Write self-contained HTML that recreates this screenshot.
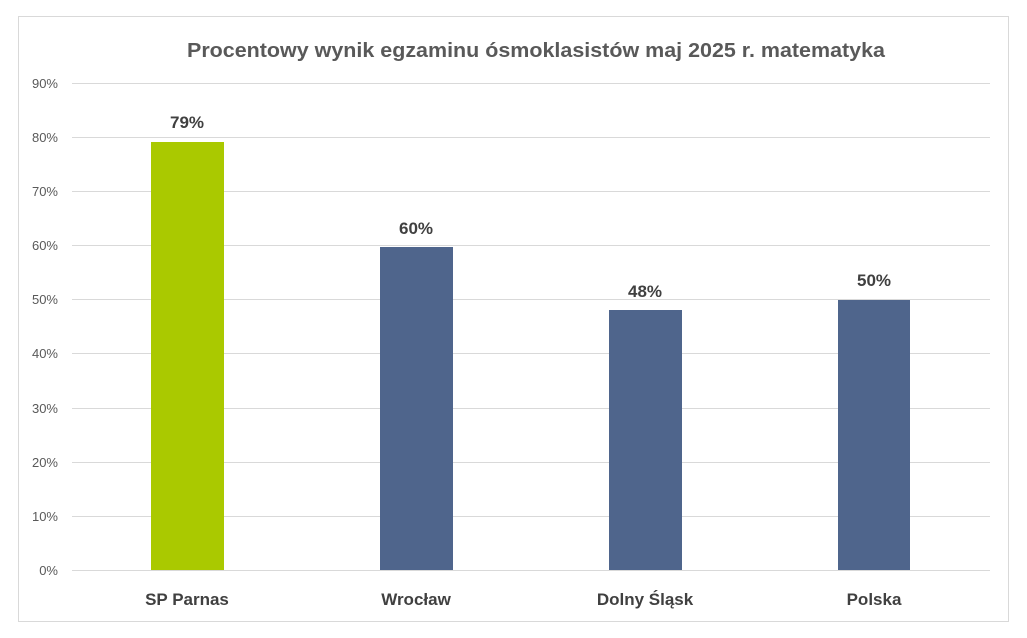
<!DOCTYPE html>
<html><head><meta charset="utf-8"><style>
body{margin:0;background:#fff;}
svg{display:block;font-family:"Liberation Sans",sans-serif;}
</style></head><body>
<svg width="1027" height="638" viewBox="0 0 1027 638">
<rect x="0" y="0" width="1027" height="638" fill="#fff"/>
<rect x="18.5" y="16.5" width="990" height="605" fill="#fff" stroke="#d9d9d9" stroke-width="1"/>
<text x="187" y="57" textLength="698" lengthAdjust="spacingAndGlyphs" font-size="20" font-weight="bold" fill="#595959">Procentowy wynik egzaminu ósmoklasistów maj 2025 r. matematyka</text>
<g stroke="#d9d9d9" stroke-width="1">
<line x1="72" x2="990" y1="83.5" y2="83.5"/>
<line x1="72" x2="990" y1="137.5" y2="137.5"/>
<line x1="72" x2="990" y1="191.5" y2="191.5"/>
<line x1="72" x2="990" y1="245.5" y2="245.5"/>
<line x1="72" x2="990" y1="299.5" y2="299.5"/>
<line x1="72" x2="990" y1="353.5" y2="353.5"/>
<line x1="72" x2="990" y1="408.5" y2="408.5"/>
<line x1="72" x2="990" y1="462.5" y2="462.5"/>
<line x1="72" x2="990" y1="516.5" y2="516.5"/>
<line x1="72" x2="990" y1="570.5" y2="570.5"/>
</g>
<g font-size="13" fill="#595959" text-anchor="end">
<text x="58" y="88">90%</text>
<text x="58" y="142">80%</text>
<text x="58" y="196">70%</text>
<text x="58" y="250">60%</text>
<text x="58" y="304">50%</text>
<text x="58" y="358">40%</text>
<text x="58" y="413">30%</text>
<text x="58" y="467">20%</text>
<text x="58" y="521">10%</text>
<text x="58" y="575">0%</text>
</g>
<rect x="151" y="142" width="73" height="428" fill="#aac900"/>
<rect x="380" y="247" width="73" height="323" fill="#4f658c"/>
<rect x="609" y="310" width="73" height="260" fill="#4f658c"/>
<rect x="838" y="300" width="72" height="270" fill="#4f658c"/>
<g font-size="17" font-weight="bold" fill="#404040" text-anchor="middle">
<text x="187" y="128">79%</text>
<text x="416" y="234">60%</text>
<text x="645" y="297">48%</text>
<text x="874" y="286">50%</text>
<text x="187" y="605">SP Parnas</text>
<text x="416" y="605">Wrocław</text>
<text x="645" y="605">Dolny Śląsk</text>
<text x="874" y="605">Polska</text>
</g>
</svg>
</body></html>
